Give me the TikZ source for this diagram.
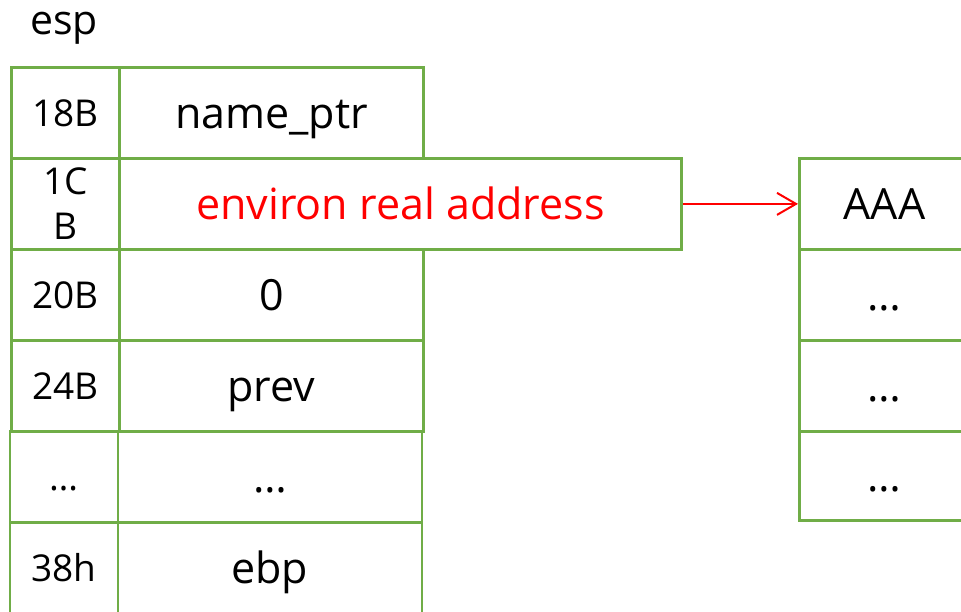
\documentclass[tikz,border=0pt]{standalone}
\usepackage{fontspec}
\setmainfont{Open Sans}
\usetikzlibrary{arrows.meta}
\definecolor{cellgreen}{RGB}{112,173,71}
\definecolor{addrred}{RGB}{255,0,0}
\begin{document}
\begin{tikzpicture}[x=1pt,y=-1pt,
  cell/.style={draw=cellgreen, line width=2.8pt, inner sep=0pt,
    anchor=north west, minimum height=91pt},
  small/.style={font=\fontsize{37}{45}\selectfont, text height=26.5pt, text depth=0pt},
  large/.style={font=\fontsize{43}{48}\selectfont, text height=30.7pt, text depth=0pt},
  offs/.style={cell, small, minimum width=108pt},
  val/.style={cell, large, minimum width=304pt},
  heap/.style={cell, large, minimum width=170pt},
  ptr/.style={draw=addrred, line width=2pt, -{Straight Barb[length=19pt,width=22pt,line width=2pt]}}]
\useasboundingbox (0,0) rectangle (961,612);
\fill[white] (0,0) rectangle (961,612);

% stack label
\node[font=\fontsize{41}{45}\selectfont, anchor=base] (esp) at (64,35) {esp};

% stack frame, offsets and contents
\node[offs] (o1) at (10,66)  {18B};
\node[offs, text height=72pt, align=center] (o2) at (10,157) {1C\\B};
\node[val]  (v1) at (118,66) {name\_ptr};
\node[cell, large, minimum width=562pt, text=addrred] (v2) at (118,157) {environ real address};
\node[offs] (o3) at (10,248) {20B};
\node[val]  (v3) at (118,248) {0};
\node[offs] (o4) at (10,339) {24B};
\node[val]  (v4) at (118,339) {prev};
\node[offs] (o5) at (8.5,430) {…};
\node[val]  (v5) at (116.5,430) {…};
\node[offs] (o6) at (8.5,521) {38h};
\node[val]  (v6) at (116.5,521) {ebp};

% environment strings
\node[heap] (h1) at (798,157) {AAA};
\node[heap] (h2) at (798,248) {…};
\node[heap] (h3) at (798,339) {…};
\node[heap, minimum height=89pt] (h4) at (798,430) {…};

\draw[ptr] (v2.east) -- (h1.west);
\end{tikzpicture}
\end{document}
